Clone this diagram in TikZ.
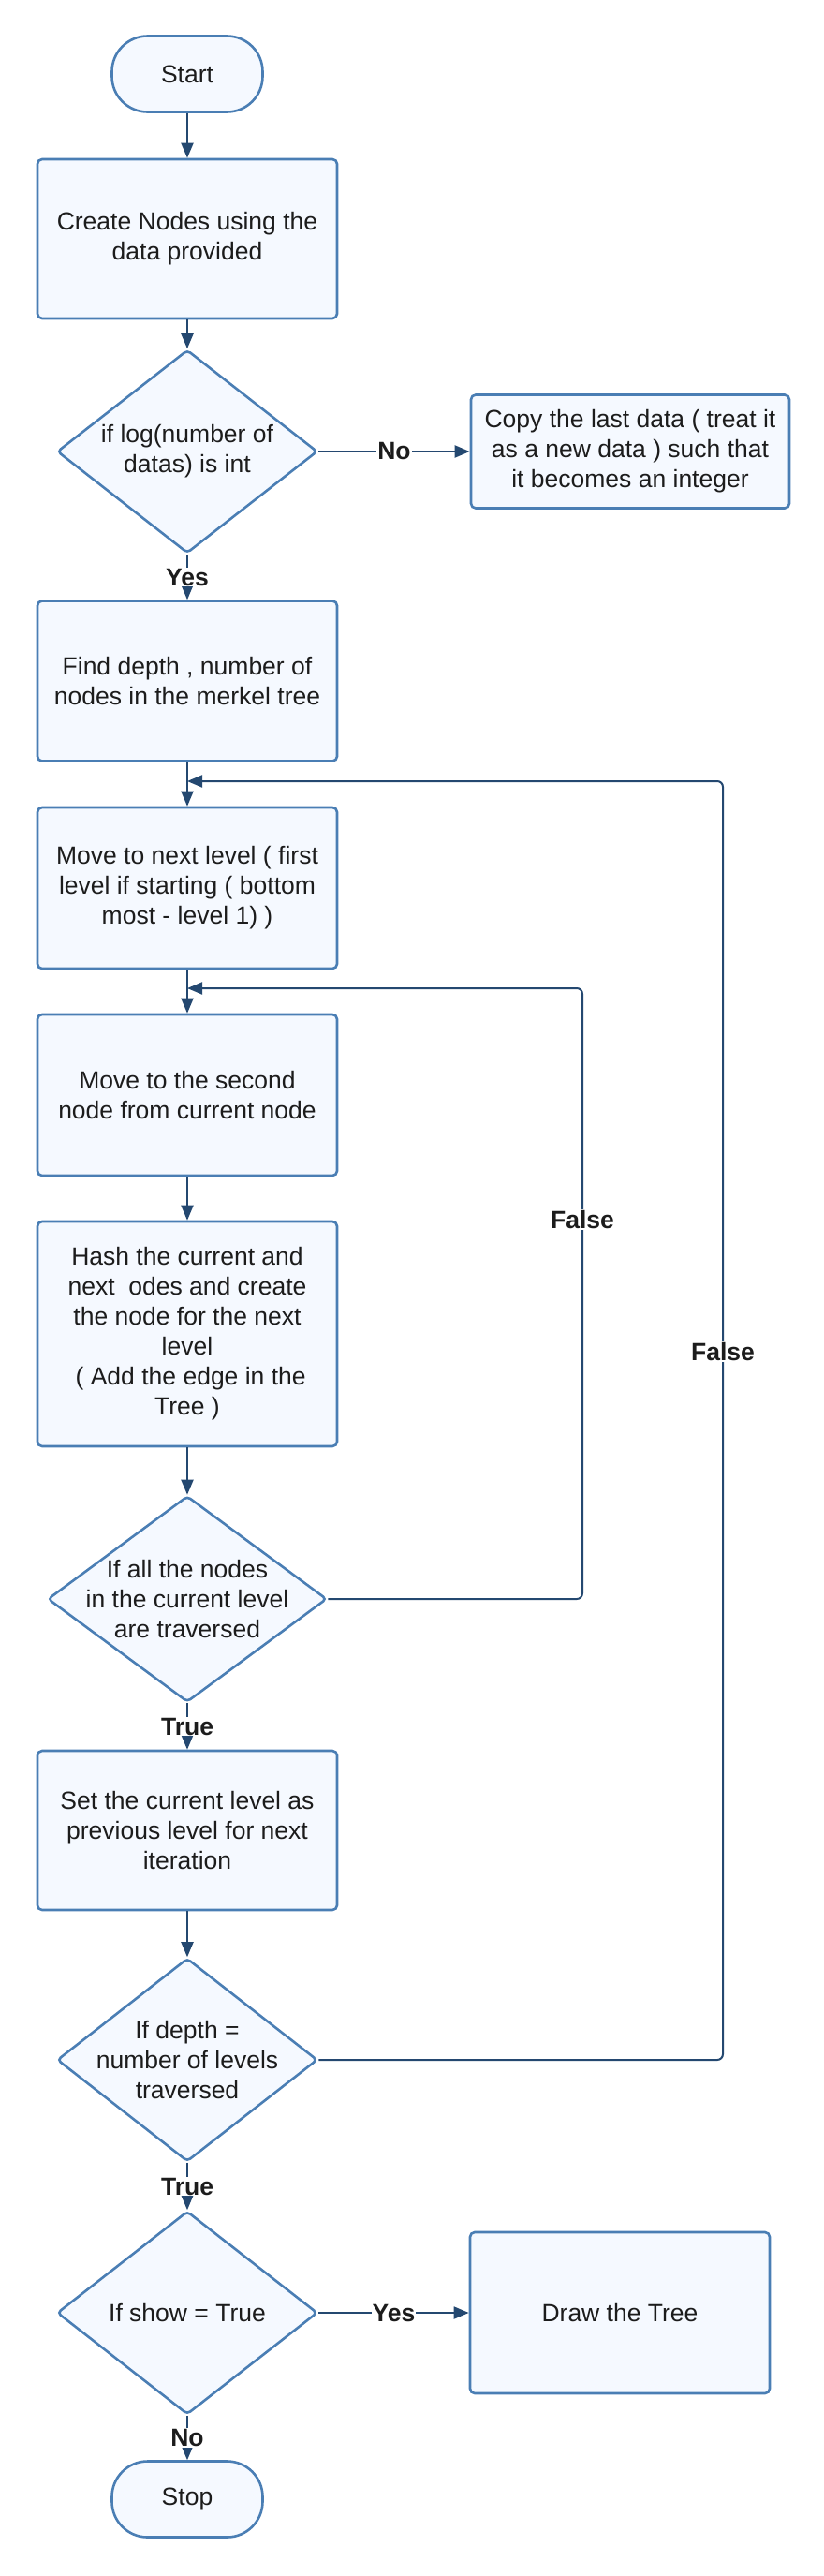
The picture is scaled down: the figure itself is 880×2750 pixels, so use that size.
\documentclass[tikz,border=0pt]{standalone}
\usepackage{fontspec}
\setmainfont{Liberation Sans}
\usetikzlibrary{shapes.geometric,arrows.meta}
\definecolor{boxline}{RGB}{74,126,180}
\definecolor{boxfill}{RGB}{245,249,255}
\definecolor{flowline}{RGB}{36,72,112}
\definecolor{txt}{RGB}{28,28,28}

\begin{document}
\begin{tikzpicture}[
  x=1bp, y=-1bp,
  font=\fontsize{26.5bp}{32bp}\selectfont,
  base/.style={draw=boxline, fill=boxfill, line width=2.6bp, text=txt, align=center},
  term/.style={base, rectangle, rounded corners=38bp, minimum width=161bp, minimum height=81bp},
  proc/.style={base, rectangle, rounded corners=5bp, minimum width=320bp, minimum height=171bp},
  decision/.style={base, diamond, inner sep=-25bp, minimum width=278bp, minimum height=217bp, rounded corners=4bp},
  flow/.style={draw=flowline, line width=2bp, -{Triangle[length=16bp,width=13bp]}},
  lbl/.style={fill=white, text=txt, font=\fontsize{26.5bp}{32bp}\selectfont\bfseries, inner sep=1bp}
]
  \useasboundingbox (0,0) rectangle (880,2750);

  \node[term] (start) at (200,79) {Start};
  \node[proc, minimum height=170bp] (create) at (200,255) {Create Nodes using the\\data provided};
  \node[decision] (d1) at (200,482) {if log(number of\\datas) is int};
  \node[proc, minimum width=340bp, minimum height=121bp] (copy) at (673,482)
    {Copy the last data ( treat it\\as a new data ) such that\\it becomes an integer};
  \node[proc] (depth) at (200,727) {Find depth , number of\\nodes in the merkel tree};
  \node[proc, minimum height=172bp] (next) at (200,948)
    {Move to next level ( first\\level if starting ( bottom\\most - level 1) )};
  \node[proc, minimum height=172bp] (second) at (200,1169) {Move to the second\\node from current node};
  \node[proc, minimum height=240bp] (hash) at (200,1424)
    {Hash the current and\\next\ \ odes and create\\the node for the next\\level\\\ ( Add the edge in the\\Tree )};
  \node[decision, minimum width=298bp, minimum height=220bp] (d2) at (200,1707)
    {If all the nodes\\in the current level\\are traversed};
  \node[proc, minimum height=170bp] (setlvl) at (200,1954)
    {Set the current level as\\previous level for next\\iteration};
  \node[decision] (d3) at (200,2199) {If depth =\\number of levels\\traversed};
  \node[decision] (d4) at (200,2469) {If show = True};
  \node[proc, minimum height=172bp] (tree) at (662,2469) {Draw the Tree};
  \node[term] (stop) at (200,2668) {Stop};

  \coordinate (in1) at (200,1055);
  \coordinate (in2) at (200,834);
  \coordinate (turn1) at (622,1055);
  \coordinate (turn2) at (772,834);

  \draw[flow] (start) -- (create);
  \draw[flow] (create) -- (d1);
  \draw[flow] (d1) -- node[lbl] {No} (copy);
  \draw[flow] (d1) -- node[lbl] {Yes} (depth);
  \draw[flow] (depth) -- (next);
  \draw[flow] (next) -- (second);
  \draw[flow] (second) -- (hash);
  \draw[flow] (hash) -- (d2);
  \draw[flow] (d2) -- node[lbl] {True} (setlvl);
  \draw[flow] (setlvl) -- (d3);
  \draw[flow] (d3) -- node[lbl] {True} (d4);
  \draw[flow] (d4) -- node[lbl] {Yes} (tree);
  \draw[flow] (d4) -- node[lbl] {No} (stop);

  % loops back up
  \draw[flow, rounded corners=6bp] (d2.east) -| (turn1) -- (in1);
  \node[lbl] (false1) at (622,1302) {False};
  \draw[flow, rounded corners=6bp] (d3.east) -| (turn2) -- (in2);
  \node[lbl] (false2) at (772,1443) {False};
\end{tikzpicture}
\end{document}
